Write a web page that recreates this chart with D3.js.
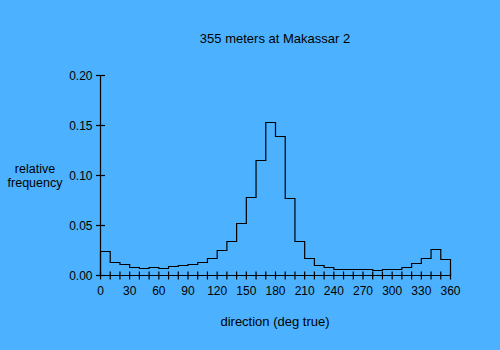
<!DOCTYPE html>
<html>
<head>
<meta charset="utf-8">
<script src="https://cdn.jsdelivr.net/npm/d3@7"></script>
<style>
html,body{margin:0;padding:0;background:#4cb2ff;}
svg{display:block;}
text{font-family:"Liberation Sans",Arial,sans-serif;fill:#000;}
</style>
</head>
<body>
<script>
const binStarts = [0,10,20,30,40,50,60,70,80,90,100,110,120,130,140,150,160,170,180,190,200,210,220,230,240,250,260,270,280,290,300,310,320,330,340,350];
const frequencies = [0.024,0.013,0.011,0.008,0.007,0.008,0.007,0.009,0.010,0.011,0.013,0.017,0.025,0.034,0.052,0.078,0.115,0.153,0.139,0.077,0.034,0.017,0.010,0.008,0.006,0.006,0.006,0.006,0.005,0.006,0.006,0.008,0.012,0.017,0.026,0.016];
const xTicks = [0,30,60,90,120,150,180,210,240,270,300,330,360];
const yTicks = [0,0.05,0.10,0.15,0.20];
const title = "355 meters at Makassar 2";
const xTitle = "direction (deg true)";
const yTitle = ["relative","frequency"];

const W = 500, H = 350;
const svg = d3.select("body").append("svg").attr("width", W).attr("height", H);
svg.append("rect").attr("width", W).attr("height", H).attr("fill", "#4cb2ff");

const x = d3.scaleLinear().domain([0, 360]).range([100.5, 450.5]);
const y = d3.scaleLinear().domain([0, 0.20]).range([275.5, 75.5]);

// step histogram outline
const pts = [[0, 0]];
binStarts.forEach((b, i) => {
  pts.push([b, frequencies[i]]);
  pts.push([b + 10, frequencies[i]]);
});
pts.push([360, 0]);
const line = d3.line().x(d => x(d[0])).y(d => y(d[1]));
svg.append("path").attr("d", line(pts)).attr("fill", "none").attr("stroke", "#000").attr("stroke-width", 1.2);

// x axis: minor ticks every 10, crossing
const gx = svg.append("g");
gx.append("line").attr("x1", x(0)).attr("x2", x(360)).attr("y1", y(0)).attr("y2", y(0)).attr("stroke", "#000").attr("stroke-width", 1.2);
const minor = d3.range(0, 361, 10);
gx.selectAll("line.t").data(minor).enter().append("line")
  .attr("x1", d => x(d)).attr("x2", d => x(d))
  .attr("y1", y(0) - 4).attr("y2", y(0) + 4)
  .attr("stroke", "#000").attr("stroke-width", 1.2);
gx.selectAll("text").data(xTicks).enter().append("text")
  .attr("x", d => x(d)).attr("y", 294.5)
  .attr("text-anchor", "middle").attr("font-size", 12)
  .text(d => d);

// y axis
const gy = svg.append("g");
gy.append("line").attr("x1", x(0)).attr("x2", x(0)).attr("y1", y(0)).attr("y2", y(0.20)).attr("stroke", "#000").attr("stroke-width", 1.2);
gy.selectAll("line.t").data(yTicks).enter().append("line")
  .attr("x1", x(0) - 4.5).attr("x2", x(0) + 4.5)
  .attr("y1", d => y(d)).attr("y2", d => y(d))
  .attr("stroke", "#000").attr("stroke-width", 1.2);
gy.selectAll("text").data(yTicks).enter().append("text")
  .attr("x", 92.5).attr("y", d => y(d) + 4)
  .attr("text-anchor", "end").attr("font-size", 12)
  .text(d => d.toFixed(2));

svg.append("text").attr("x", 275).attr("y", 42.5).attr("text-anchor", "middle").attr("font-size", 13).text(title);
svg.append("text").attr("x", 275).attr("y", 326).attr("text-anchor", "middle").attr("font-size", 13).text(xTitle);
svg.selectAll("text.yl").data(yTitle).enter().append("text")
  .attr("x", 35).attr("y", (d, i) => 173 + i * 13.5)
  .attr("text-anchor", "middle").attr("font-size", 12.5).text(d => d);
</script>
</body>
</html>
